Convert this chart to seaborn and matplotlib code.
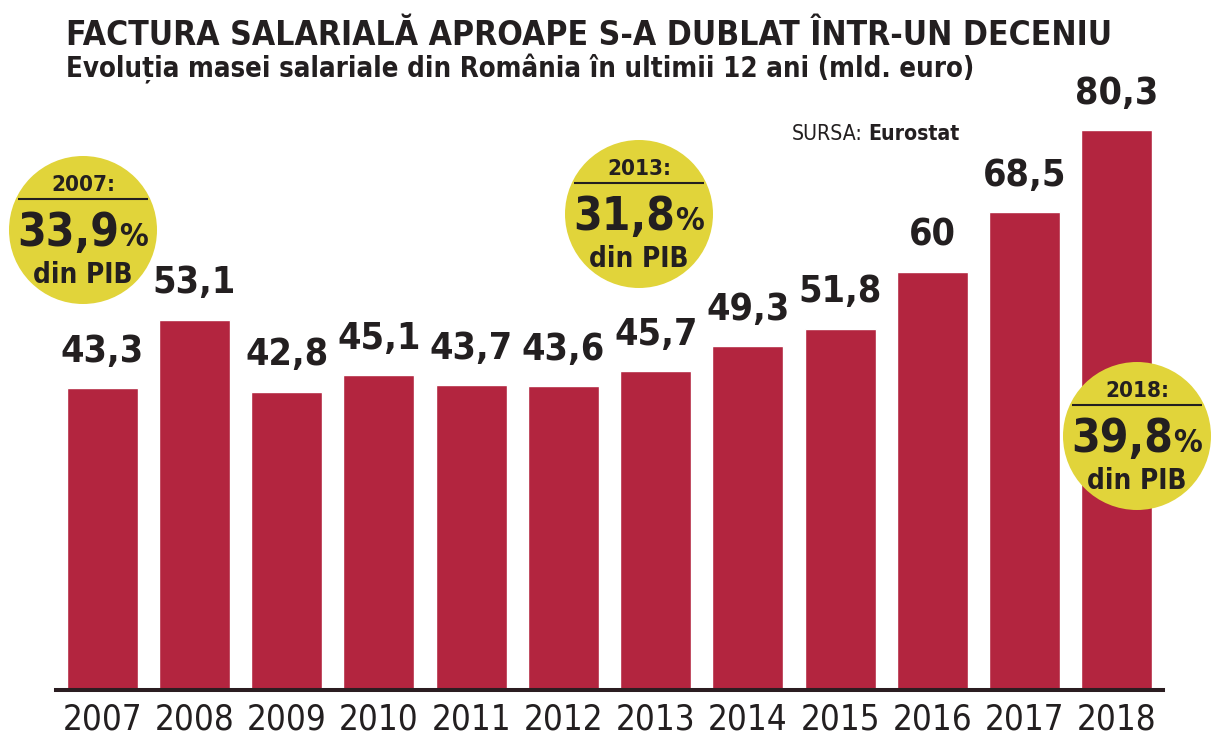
import matplotlib
matplotlib.use("Agg")
import matplotlib.pyplot as plt
import seaborn as sns
from matplotlib import font_manager as fm
from matplotlib.patches import Circle

# ---------------- data ----------------
years = ["2007", "2008", "2009", "2010", "2011", "2012",
         "2013", "2014", "2015", "2016", "2017", "2018"]
values = [43.3, 53.1, 42.8, 45.1, 43.7, 43.6, 45.7, 49.3, 51.8, 60.0, 68.5, 80.3]
value_labels = ["43,3", "53,1", "42,8", "45,1", "43,7", "43,6",
                "45,7", "49,3", "51,8", "60", "68,5", "80,3"]
gdp_years = ["2007", "2013", "2018"]
gdp_share = ["33,9", "31,8", "39,8"]

title = "FACTURA SALARIALĂ APROAPE S-A DUBLAT ÎNTR-UN DECENIU"
subtitle = "Evoluția masei salariale din România în ultimii 12 ani (mld. euro)"
source_label = "SURSA:"
source_name = "Eurostat"

# ---------------- style ----------------
BAR = "#B3253F"
YELLOW = "#E1D43A"
INK = "#231F20"

sns.set_theme(style="white")
names = {f.name for f in fm.fontManager.ttflist}
if "Liberation Sans Narrow" in names:
    FONT = ["Liberation Sans Narrow", "DejaVu Sans"]
    STRETCH = "normal"
else:
    FONT = ["DejaVu Sans"]
    STRETCH = "condensed"
plt.rcParams["font.family"] = FONT
plt.rcParams["font.stretch"] = STRETCH

W, H = 1212, 746
fig = plt.figure(figsize=(W / 100, H / 100), dpi=100)
fig.patch.set_facecolor("white")

ax = fig.add_axes([56 / W, (H - 690) / H, 1107 / W, 560 / H])
sns.barplot(x=years, y=values, color=BAR, saturation=1, width=0.77, ax=ax)
ax.set_xlim(-0.5, 11.5)
ax.set_ylim(0, 80.3)
ax.set_xlabel("")
ax.set_ylabel("")
ax.set_yticks([])
for s in ["left", "right", "top"]:
    ax.spines[s].set_visible(False)
ax.spines["bottom"].set_color("#2B1D21")
ax.spines["bottom"].set_linewidth(2.9)
ax.spines["bottom"].set_zorder(5)
ax.tick_params(axis="x", length=0, pad=9, labelsize=25, labelcolor=INK)
ax.set_xticks(range(len(years)), years)
ax.set_facecolor("none")

for i, (v, lbl) in enumerate(zip(values, value_labels)):
    ax.annotate(lbl, (i, v), xytext=(0, 19), textcoords="offset points",
                ha="center", va="baseline", fontsize=27, fontweight="bold",
                color=INK, annotation_clip=False)

# ---------------- overlay (pixel coordinates) ----------------
ov = fig.add_axes([0, 0, 1, 1])
ov.set_xlim(0, W)
ov.set_ylim(H, 0)
ov.axis("off")
ov.patch.set_alpha(0)

t_title = ov.text(66, 45, title, fontsize=32, fontweight="bold", color=INK,
                  ha="left", va="baseline")
t_sub = ov.text(66, 77, subtitle, fontsize=26, fontweight="bold", color=INK,
                ha="left", va="baseline")
t_src1 = ov.text(793, 140, source_label, fontsize=19, color=INK, ha="left",
                 va="baseline")
t_src2 = ov.text(866, 140, source_name, fontsize=19, fontweight="bold", color=INK,
                 ha="left", va="baseline")

badge_pos = [(83, 230), (639, 214), (1137, 436)]
R = 74
pairs = []
for (cx, cy), yr, sh in zip(badge_pos, gdp_years, gdp_share):
    ov.add_patch(Circle((cx, cy), R, facecolor=YELLOW, edgecolor="none", zorder=3))
    ov.text(cx, cy - 39, yr + ":", fontsize=16, fontweight="bold", color=INK,
            ha="center", va="baseline", zorder=4)
    ov.plot([cx - 65, cx + 65], [cy - 31, cy - 31], color=INK, lw=1.5, zorder=4,
            solid_capstyle="butt")
    t1 = ov.text(cx, cy + 16, sh, fontsize=33, fontweight="bold", color=INK,
                 ha="left", va="baseline", zorder=4)
    t2 = ov.text(cx, cy + 16, "%", fontsize=23, fontweight="bold", color=INK,
                 ha="left", va="baseline", zorder=4)
    ov.text(cx, cy + 53, "din PIB", fontsize=20, fontweight="bold", color=INK,
            ha="center", va="baseline", zorder=4)
    pairs.append((cx, cy, t1, t2))

# fit wide texts to the widths they take in the reference
fig.canvas.draw()
def fit(t, target):
    w = t.get_window_extent().width
    t.set_fontsize(t.get_fontsize() * target / w)

fit(t_title, 1044)
fit(t_sub, 907)
fig.canvas.draw()
w_src1 = t_src1.get_window_extent().width
w_src2 = t_src2.get_window_extent().width
scale = 166 / (w_src1 + 5 + w_src2)
t_src1.set_fontsize(19 * scale)
t_src2.set_fontsize(19 * scale)
fig.canvas.draw()
w_src1 = t_src1.get_window_extent().width
w_src2 = t_src2.get_window_extent().width
t_src1.set_x(959 - w_src2 - 5 - w_src1)
t_src2.set_x(959 - w_src2)

for cx, cy, t1, t2 in pairs:
    w1 = t1.get_window_extent().width
    w2 = t2.get_window_extent().width
    left = cx - (w1 + w2) / 2
    t1.set_x(left)
    t2.set_x(left + w1)

fig.savefig("out.png", dpi=100, facecolor="white")
